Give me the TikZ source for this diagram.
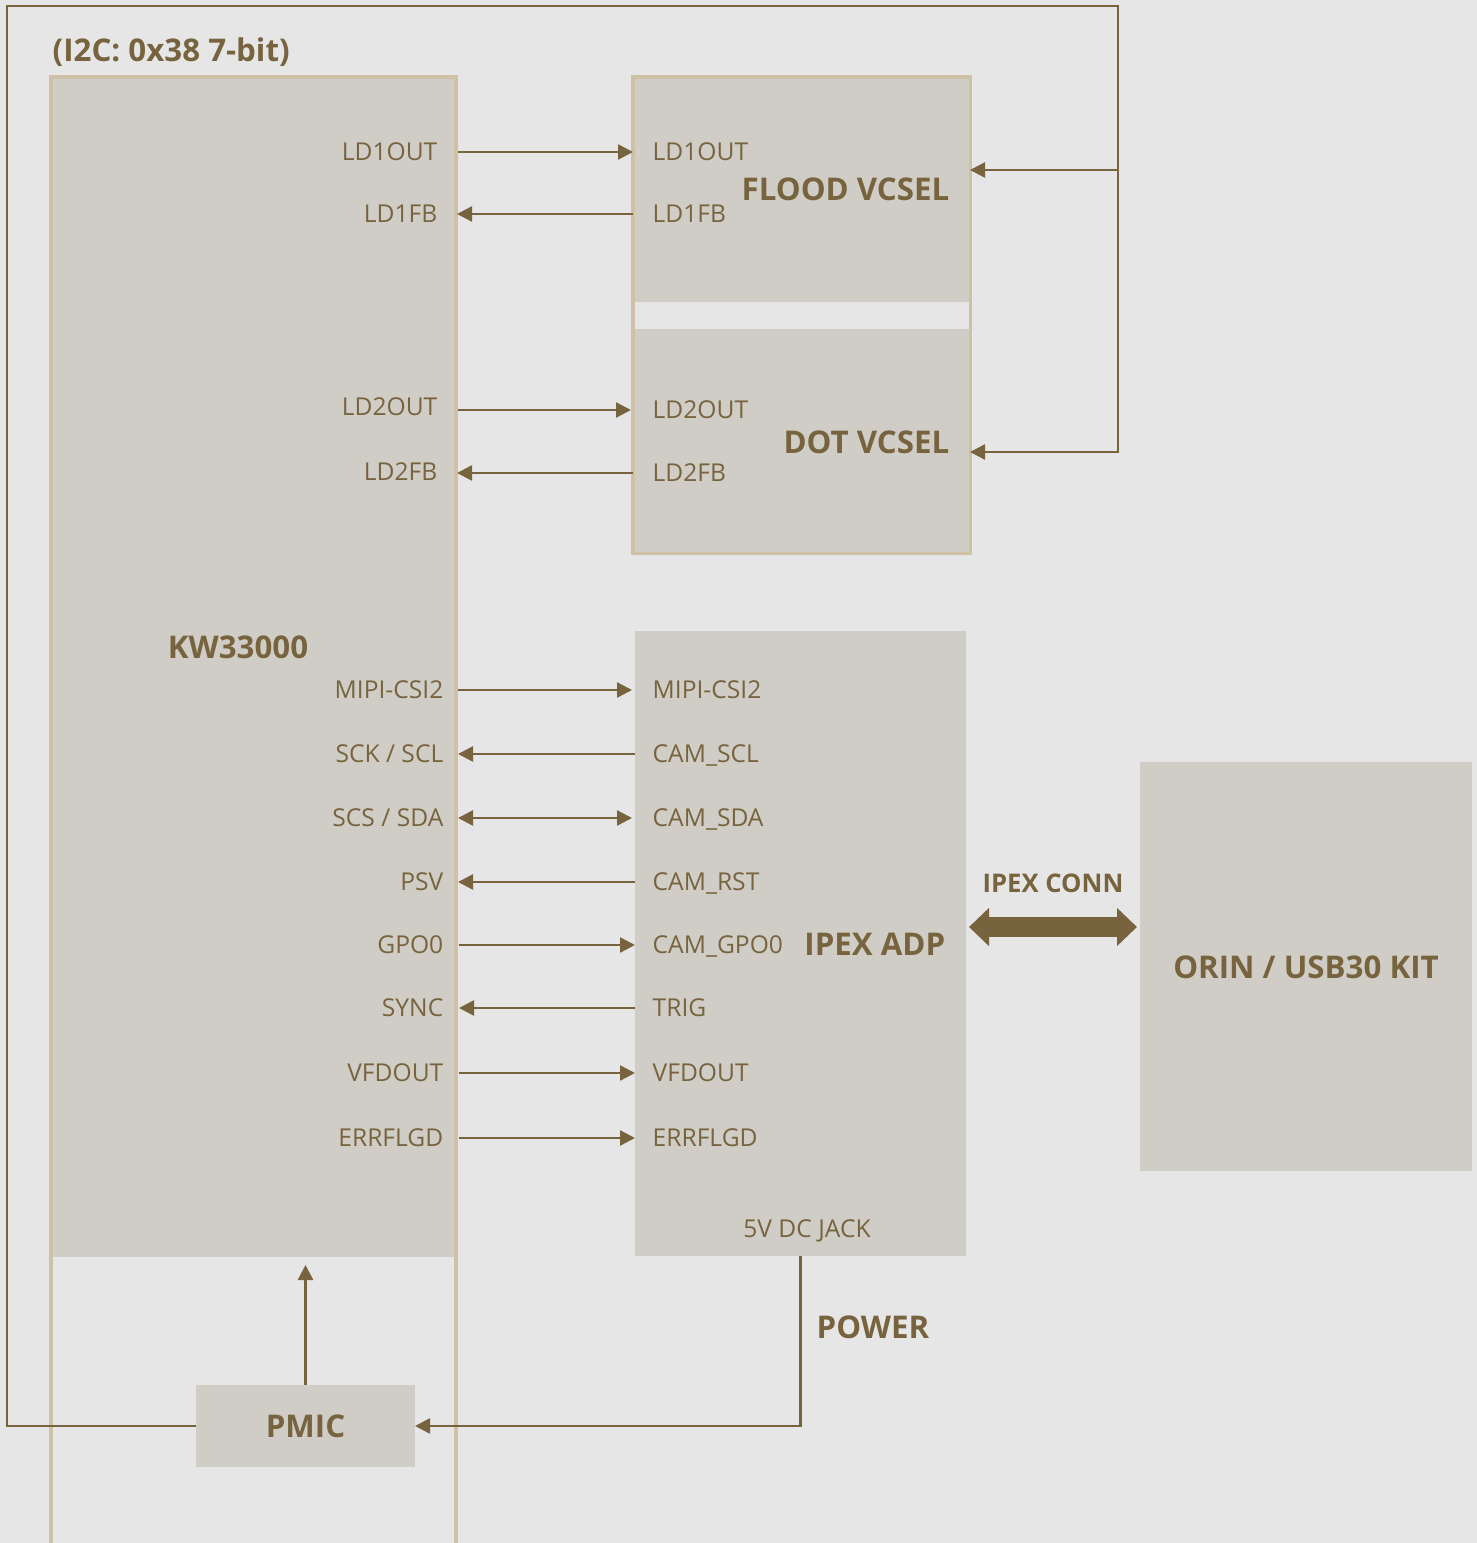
\documentclass[tikz,border=0pt]{standalone}
\usepackage{fontspec}
\setmainfont{Open Sans}
\usepackage{tikz}
\usetikzlibrary{arrows.meta,positioning,calc}
\definecolor{kbg}{HTML}{E6E6E6}
\definecolor{kfill}{HTML}{D0CDC6}
\definecolor{ktan}{HTML}{CFC1A6}
\definecolor{kink}{HTML}{77643F}
\tikzset{
  box/.style={fill=kfill,inner sep=0pt,outer sep=0pt},
  clus/.style={draw=ktan,line width=1pt},
  pin/.style={-{Triangle[length=1.5mm,width=1.5mm]},line width=0.7pt,draw=kink},
  bipin/.style={{Triangle[length=1.5mm,width=1.5mm]}-{Triangle[length=1.5mm,width=1.5mm]},line width=0.7pt,draw=kink},
  fat/.style={{Triangle[length=2mm,width=3.7mm]}-{Triangle[length=2mm,width=3.7mm]},line width=2mm,draw=kink},
  lbl/.style={font=\fontsize{7}{8}\selectfont,text=kink,inner sep=0pt,text height=5pt,text depth=0pt},
  ttl/.style={font=\bfseries\fontsize{8.9}{10}\selectfont,text=kink,inner sep=0pt,text height=6.3pt,text depth=0pt},
  sttl/.style={font=\bfseries\fontsize{7.3}{9}\selectfont,text=kink,inner sep=0pt,text height=5.2pt,text depth=0pt},
}
\begin{document}
\begin{tikzpicture}
  \useasboundingbox[fill=kbg] (0,0) rectangle (14.77,15.43);
  % KW33000 block
  \node[box,minimum width=4.04cm,minimum height=11.80cm] (kw) at (2.53,8.76) {};
  \draw[clus] (0.51,-0.2) -- (0.51,14.66) -- (4.56,14.66) -- (4.56,-0.2);
  \node[ttl,anchor=west] (i2c) at (0.52,14.93) {(I2C: 0x38 7-bit)};
  \node[ttl] (kwt) at (2.38,8.96) {KW33000};
  \node[lbl,anchor=east] (k1) at (4.38,13.91) {LD1OUT};
  \node[lbl,anchor=east] (k2) at (4.38,13.29) {LD1FB};
  \node[lbl,anchor=east] (k3) at (4.38,11.36) {LD2OUT};
  \node[lbl,anchor=east] (k4) at (4.38,10.71) {LD2FB};
  \node[lbl,anchor=east] (k5) at (4.44,8.53) {MIPI-CSI2};
  \node[lbl,anchor=east] (k6) at (4.44,7.89) {SCK / SCL};
  \node[lbl,anchor=east] (k7) at (4.44,7.25) {SCS / SDA};
  \node[lbl,anchor=east] (k8) at (4.44,6.61) {PSV};
  \node[lbl,anchor=east] (k9) at (4.44,5.98) {GPO0};
  \node[lbl,anchor=east] (k10) at (4.44,5.35) {SYNC};
  \node[lbl,anchor=east] (k11) at (4.44,4.70) {VFDOUT};
  \node[lbl,anchor=east] (k12) at (4.44,4.05) {ERRFLGD};
  % VCSEL pair
  \node[box,minimum width=3.37cm,minimum height=2.25cm] (flood) at (8.015,13.535) {};
  \node[box,minimum width=3.37cm,minimum height=2.24cm] (dot) at (8.015,11.02) {};
  \draw[clus] (6.33,9.895) rectangle (9.705,14.66);
  \node[ttl,anchor=east] (floodt) at (9.50,13.54) {FLOOD VCSEL};
  \node[ttl,anchor=east] (dott) at (9.50,11.01) {DOT VCSEL};
  \node[lbl,anchor=west] (f1) at (6.52,13.91) {LD1OUT};
  \node[lbl,anchor=west] (f2) at (6.52,13.29) {LD1FB};
  \node[lbl,anchor=west] (d1) at (6.52,11.33) {LD2OUT};
  \node[lbl,anchor=west] (d2) at (6.52,10.70) {LD2FB};
  % IPEX adapter
  \node[box,minimum width=3.31cm,minimum height=6.25cm] (ipex) at (8.005,5.995) {};
  \node[ttl,anchor=east] (ipext) at (9.46,5.99) {IPEX ADP};
  \node[lbl,anchor=west] (a1) at (6.52,8.53) {MIPI-CSI2};
  \node[lbl,anchor=west] (a2) at (6.52,7.89) {CAM\_SCL};
  \node[lbl,anchor=west] (a3) at (6.52,7.25) {CAM\_SDA};
  \node[lbl,anchor=west] (a4) at (6.52,6.61) {CAM\_RST};
  \node[lbl,anchor=west] (a5) at (6.52,5.98) {CAM\_GPO0};
  \node[lbl,anchor=west] (a6) at (6.52,5.35) {TRIG};
  \node[lbl,anchor=west] (a7) at (6.52,4.70) {VFDOUT};
  \node[lbl,anchor=west] (a8) at (6.52,4.05) {ERRFLGD};
  \node[lbl] (jack) at (8.07,3.14) {5V DC JACK};
  % host kit
  \node[box,minimum width=3.32cm,minimum height=4.09cm] (orin) at (13.06,5.765) {};
  \node[ttl] (orint) at (13.06,5.76) {ORIN / USB30 KIT};
  \node[sttl] (conn) at (10.53,6.60) {IPEX CONN};
  \coordinate (cn) at (10.53,6.16);
  \draw[fat] ([xshift=0.3mm]ipex.east |- cn) -- ([xshift=-0.3mm]orin.west |- cn);
  % PMIC
  \node[box,minimum width=2.19cm,minimum height=0.82cm] (pmic) at (3.055,1.17) {};
  \node[ttl] (pmict) at (3.055,1.17) {PMIC};
  \node[ttl,anchor=west] (pwrt) at (8.16,2.16) {POWER};
  % pin connectors
  \draw[pin] ([xshift=0.3mm]kw.east |- k1) -- (flood.west |- k1);
  \draw[pin] (flood.west |- k2) -- ([xshift=0.2mm]kw.east |- k2);
  \draw[pin] ([xshift=0.3mm]kw.east |- d1) -- ([xshift=-0.2mm]dot.west |- d1);
  \draw[pin] (dot.west |- d2) -- ([xshift=0.2mm]kw.east |- d2);
  \draw[pin] ([xshift=0.3mm]kw.east |- a1) -- ([xshift=-0.3mm]ipex.west |- a1);
  \draw[pin] (ipex.west |- a2) -- ([xshift=0.3mm]kw.east |- a2);
  \draw[bipin] ([xshift=0.3mm]kw.east |- a3) -- ([xshift=-0.3mm]ipex.west |- a3);
  \draw[pin] (ipex.west |- a4) -- ([xshift=0.3mm]kw.east |- a4);
  \draw[pin] ([xshift=0.4mm]kw.east |- a5) -- (ipex.west |- a5);
  \draw[pin] (ipex.west |- a6) -- ([xshift=0.4mm]kw.east |- a6);
  \draw[pin] ([xshift=0.4mm]kw.east |- a7) -- (ipex.west |- a7);
  \draw[pin] ([xshift=0.4mm]kw.east |- a8) -- (ipex.west |- a8);
  % power and I2C bus
  \draw[pin] (pmic.north) -- ([yshift=-0.8mm]pmic.north |- kw.south);
  \draw[pin] (ipex.south) |- (pmic.east);
  \coordinate (bl) at (0.07,1.17);
  \coordinate (tl) at (0.07,15.37);
  \coordinate (tr) at (11.18,15.37);
  \coordinate (td) at (11.18,10.91);
  \coordinate (tf) at (11.18,13.73);
  \draw[pin] (pmic.west) -- (bl) -- (tl) -- (tr) -- (td) -- (dot.east |- td);
  \draw[pin] (tf) -- (flood.east |- tf);
\end{tikzpicture}
\end{document}
